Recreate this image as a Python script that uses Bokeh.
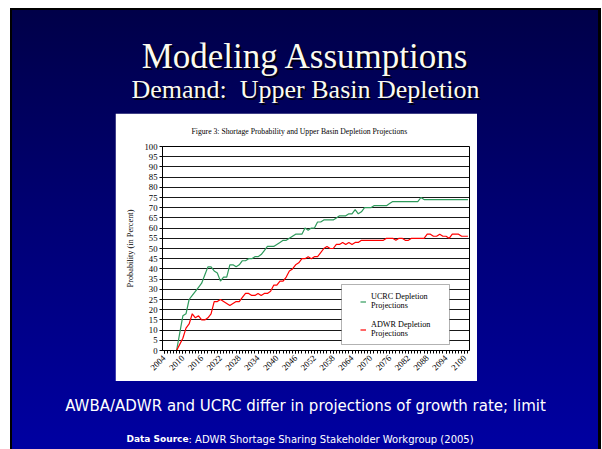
from math import pi
from bokeh.plotting import figure
from bokeh.models import (Range1d, FixedTicker, Label, Legend, LegendItem,
                          BoxAnnotation, ColumnDataSource)
from bokeh.layouts import column, row
from bokeh.embed import file_html
from bokeh.resources import INLINE

# ---------------- data ----------------
years = list(range(2004, 2102))
ucrc = [0, 0, 0, 0, 0, 8.5, 17, 18, 25, 27,
        29, 31, 33, 37, 41, 41, 39, 38, 34, 36,
        36, 42, 42, 41, 42, 44, 44, 45, 45, 46,
        46, 47, 49, 51, 51, 51, 52, 53, 54, 54,
        55, 56, 57, 57, 57, 60, 59, 60, 60, 63,
        63, 64, 64, 64, 64, 65, 66, 66, 66, 67,
        67, 69, 67, 68, 70, 70, 70, 71, 71, 71,
        71, 71, 72, 73, 73, 73, 73, 73, 73, 73,
        73, 73, 75, 74, 74, 74, 74, 74, 74, 74,
        74, 74, 74, 74, 74, 74, 74, 74]
adwr = [0, 0, 0, 0, 0, 3, 6, 11, 13, 18,
        16, 17, 15, 15, 16, 18, 24, 24, 25, 24,
        23, 22, 23, 24, 24, 26, 28, 28, 27, 27,
        28, 27, 28, 28, 29, 32, 32, 34, 34, 36,
        39, 40, 42, 43, 45, 45, 46, 45, 46, 46,
        48, 50, 51, 50, 50, 52, 52, 53, 52, 53,
        52, 53, 53, 54, 54, 54, 54, 54, 54, 54,
        54, 55, 55, 55, 54, 55, 55, 54, 54, 55,
        55, 55, 55, 55, 57, 57, 56, 56, 57, 56,
        56, 55, 57, 57, 57, 56, 56, 56]
y_ticks = list(range(0, 101, 5))
x_label_years = list(range(2004, 2101, 6))

series_names = ["UCRC Depletion\nProjections", "ADWR Depletion\nProjections"]
series_colors = ["#2f9a5c", "#ff0000"]

slide_title = "Modeling Assumptions"
slide_subtitle = "Demand:\u00a0 Upper Basin Depletion"
chart_title = "Figure 3:  Shortage Probability and Upper Basin Depletion Projections"
y_axis_title = "Probability (in Percent)"
note_text = "AWBA/ADWR and UCRC differ in projections of growth rate; limit"
source_bold = "Data Source"
source_rest = ":  ADWR Shortage Sharing Stakeholder Workgroup (2005)"

SERIF = "Liberation Serif"
SANS = "DejaVu Sans"

# ---------------- chart ----------------
src = ColumnDataSource(dict(year=years, ucrc=ucrc, adwr=adwr))

chart = figure(width=362, height=268, output_backend="svg", toolbar_location=None,
               x_range=Range1d(2003.5, 2101.5), y_range=Range1d(0, 100),
               min_border_left=47, min_border_right=8, min_border_top=31,
               min_border_bottom=31)
chart.background_fill_color = "white"
chart.border_fill_color = "white"
chart.outline_line_color = "black"
chart.outline_line_width = 1

chart.title.text = chart_title
chart.title.align = "left"
chart.title.offset = 29
chart.title.standoff = 22
chart.title.text_font = SERIF
chart.title.text_font_size = "7.7px"
chart.title.text_font_style = "normal"
chart.title.text_color = "black"

xa = chart.xaxis[0]
xa.ticker = FixedTicker(ticks=x_label_years, minor_ticks=years)
xa.major_label_orientation = pi / 4
xa.major_tick_in = 0
xa.major_tick_out = 3
xa.minor_tick_in = 0
xa.minor_tick_out = 3
xa.axis_line_color = "black"
xa.major_tick_line_color = "black"
xa.minor_tick_line_color = "black"
xa.major_label_text_font = SERIF
xa.major_label_text_font_size = "8.7px"
xa.major_label_text_color = "black"
xa.major_label_standoff = 3

ya = chart.yaxis[0]
ya.ticker = FixedTicker(ticks=y_ticks)
ya.major_tick_in = 0
ya.major_tick_out = 3
ya.minor_tick_line_color = None
ya.axis_line_color = "black"
ya.major_tick_line_color = "black"
ya.major_label_text_font = SERIF
ya.major_label_text_font_size = "8.7px"
ya.major_label_text_color = "black"
ya.major_label_standoff = 2
ya.axis_label = y_axis_title
ya.axis_label_text_font = SERIF
ya.axis_label_text_font_size = "8.3px"
ya.axis_label_text_font_style = "normal"
ya.axis_label_text_color = "black"
ya.axis_label_standoff = 6

chart.xgrid.visible = False
chart.ygrid.ticker = FixedTicker(ticks=y_ticks)
chart.ygrid.grid_line_color = "black"
chart.ygrid.grid_line_width = 1
chart.ygrid.grid_line_alpha = 0.9

r1 = chart.line("year", "ucrc", source=src, line_color=series_colors[0], line_width=1.2)
r2 = chart.line("year", "adwr", source=src, line_color=series_colors[1], line_width=1.2)

box = BoxAnnotation(left=179, right=287, bottom=6, top=66,
                    left_units="screen", right_units="screen",
                    bottom_units="screen", top_units="screen",
                    fill_color="white", fill_alpha=1.0,
                    line_color="black", line_width=1, level="annotation")
chart.add_layout(box)

legend = Legend(items=[LegendItem(label=series_names[0], renderers=[r1]),
                       LegendItem(label=series_names[1], renderers=[r2])],
                location=(198, 12), padding=0, spacing=10, margin=0,
                glyph_width=6, glyph_height=9, label_standoff=5,
                label_text_font=SERIF, label_text_font_size="8.2px",
                label_text_color="black", label_text_line_height=1.1,
                border_line_color=None, background_fill_alpha=0)
legend.level = "overlay"
chart.add_layout(legend)


# ---------------- slide pieces ----------------
def panel(w, h):
    f = figure(width=w, height=h, output_backend="svg", toolbar_location=None,
               min_border=0, x_range=Range1d(0, w), y_range=Range1d(0, h),
               x_axis_location=None, y_axis_location=None)
    f.grid.visible = False
    f.outline_line_color = None
    f.background_fill_alpha = 0
    f.border_fill_alpha = 0
    return f


def slabel(f, x, y, text, font, size, color, style="normal", align="center", alpha=1.0):
    f.add_layout(Label(x=x, y=y, x_units="screen", y_units="screen", text=text,
                       text_font=font, text_font_size=size, text_color=color,
                       text_font_style=style, text_align=align,
                       text_baseline="alphabetic", text_alpha=alpha))


W = 602
TOP_H, MID_H, BOT_H = 113, 268, 68
LEFT_W, CHART_W = 115, 362

top = panel(W, TOP_H)
TITLE_C = "#fbfbf0"
slabel(top, 307, 55, slide_title, SERIF, "35px", "black", alpha=0.85)
slabel(top, 305, 57, slide_title, SERIF, "35px", TITLE_C)
slabel(top, 307, 22, slide_subtitle, SERIF, "26px", "black", alpha=0.85)
slabel(top, 305, 24, slide_subtitle, SERIF, "26px", TITLE_C)

left = panel(LEFT_W, MID_H)
right = panel(W - LEFT_W - CHART_W, MID_H)

bottom = panel(W, BOT_H)
slabel(bottom, 305, 44, note_text, SANS, "15px", "white")
slabel(bottom, 126, 10.5, source_bold, SANS, "9px", "white", style="bold", align="left")
slabel(bottom, 188, 10.5, source_rest, SANS, "10px", "white", align="left")

bg = ("linear-gradient(#000,#000) 10px 8px / 2px 441px no-repeat, "
      "linear-gradient(#000,#000) 10px 8px / 591px 2px no-repeat, "
      "linear-gradient(#000,#000) 598px 8px / 3px 441px no-repeat, "
      "linear-gradient(180deg, #000048 0%, #000076 50%, #0000a2 100%) 10px 8px / 591px 441px no-repeat, "
      "#ffffff")

layout = column(top, row(left, chart, right, spacing=0), bottom, spacing=0,
                styles={"background": bg})

open("out.html", "w").write(file_html(layout, INLINE))
